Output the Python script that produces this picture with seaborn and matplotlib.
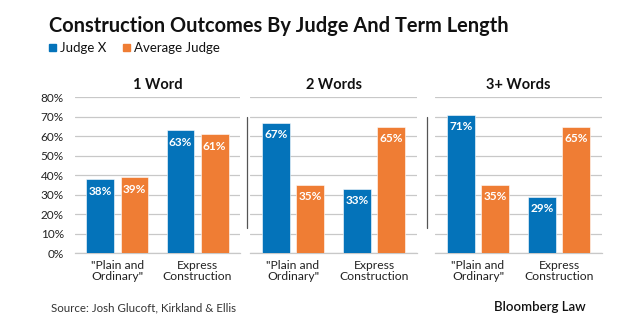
import matplotlib
matplotlib.use("Agg")
import matplotlib.pyplot as plt
import seaborn as sns
import pandas as pd
from matplotlib.lines import Line2D
from matplotlib.patches import Rectangle

panels = ["1 Word", "2 Words", "3+ Words"]
categories = ['"Plain and\nOrdinary"', "Express\nConstruction"]
series = ["Judge X", "Average Judge"]
judge_x = [[38, 63], [67, 33], [71, 29]]
average_judge = [[39, 61], [35, 65], [35, 65]]
yticks = [0, 10, 20, 30, 40, 50, 60, 70, 80]
title = "Construction Outcomes By Judge And Term Length"
source = "Source: Josh Glucoft, Kirkland & Ellis"
brand = "Bloomberg Law"

BLUE = "#0473BA"
ORANGE = "#EF7D34"
GRID = "#C8C8C8"
FONT = "Lato"

sns.set_theme(style="white")
plt.rcParams["font.family"] = [FONT, "DejaVu Sans"]

fig = plt.figure(figsize=(6.33, 3.33), dpi=100)
fig.patch.set_facecolor("white")

lefts = [75 / 633, 250 / 633, 435 / 633]
widths = [165 / 633, 167 / 633, 167 / 633]
bottom = 1 - 253.3 / 333
height = (253.3 - 97.3) / 333

for i, name in enumerate(panels):
    rows = []
    for c, cat in enumerate(categories):
        rows.append({"cat": cat, "series": series[0], "val": judge_x[i][c]})
        rows.append({"cat": cat, "series": series[1], "val": average_judge[i][c]})
    df = pd.DataFrame(rows)
    ax = fig.add_axes([lefts[i], bottom, widths[i], height])
    sns.barplot(data=df, x="cat", y="val", hue="series", order=categories,
                hue_order=series, palette=[BLUE, ORANGE], width=0.85, gap=0.18,
                ax=ax, legend=False, saturation=1, zorder=3)
    ax.set_ylim(0, 80)
    ax.set_xlim(-0.53, 1.53)
    ax.set_yticks(yticks)
    ax.grid(axis="y", color=GRID, linewidth=0.9, zorder=0)
    ax.set_axisbelow(True)
    for s in ["top", "right", "left"]:
        ax.spines[s].set_visible(False)
    ax.spines["bottom"].set_color(GRID)
    ax.spines["bottom"].set_linewidth(0.9)
    ax.set_xlabel("")
    ax.set_ylabel("")
    ax.tick_params(axis="both", length=0, pad=4.5)
    ax.set_xticks(range(len(categories)))
    ax.set_xticklabels(categories, fontsize=8.7, color="#222222", linespacing=1.05)
    if i == 0:
        ax.set_yticklabels([f"{t}%" for t in yticks], fontsize=8.5, color="#222222")
        ax.tick_params(axis="y", pad=8)
    else:
        ax.set_yticklabels([])
    ax.set_title(name, fontsize=10.5, fontweight="bold", color="#111111", pad=6)
    for cont in ax.containers:
        labels = [f"{v:.0f}%" for v in cont.datavalues]
        ax.bar_label(cont, labels=labels, padding=-12.5, color="white",
                     fontsize=8.5, fontweight="bold")
        for p in cont.patches:
            p.set_edgecolor("white")
            p.set_linewidth(0.4)

for x in [247, 427]:
    fig.add_artist(Line2D([x / 633, x / 633], [1 - 117 / 333, 1 - 228 / 333],
                          color="#555555", linewidth=0.9))

fig.text(49 / 633, 1 - 32 / 333, title, fontsize=14.4, fontweight="bold",
         color="#111111", va="baseline", ha="left")
fig.add_artist(Rectangle((49 / 633, 1 - 51 / 333), 7 / 633, 7 / 333,
                         color=BLUE, transform=fig.transFigure))
fig.text(60 / 633, 1 - 52 / 333, series[0], fontsize=9.5, color="#111111",
         va="baseline", ha="left")
fig.add_artist(Rectangle((123 / 633, 1 - 51 / 333), 7 / 633, 7 / 333,
                         color=ORANGE, transform=fig.transFigure))
fig.text(134 / 633, 1 - 52 / 333, series[1], fontsize=9.5, color="#111111",
         va="baseline", ha="left")

fig.text(51 / 633, 1 - 311 / 333, source, fontsize=8.3, color="#333333",
         va="baseline", ha="left")
fig.text(586 / 633, 1 - 311 / 333, brand, fontsize=9.5, color="#111111",
         fontweight="semibold", va="baseline", ha="right")

fig.savefig("out.png", dpi=100, facecolor="white")
